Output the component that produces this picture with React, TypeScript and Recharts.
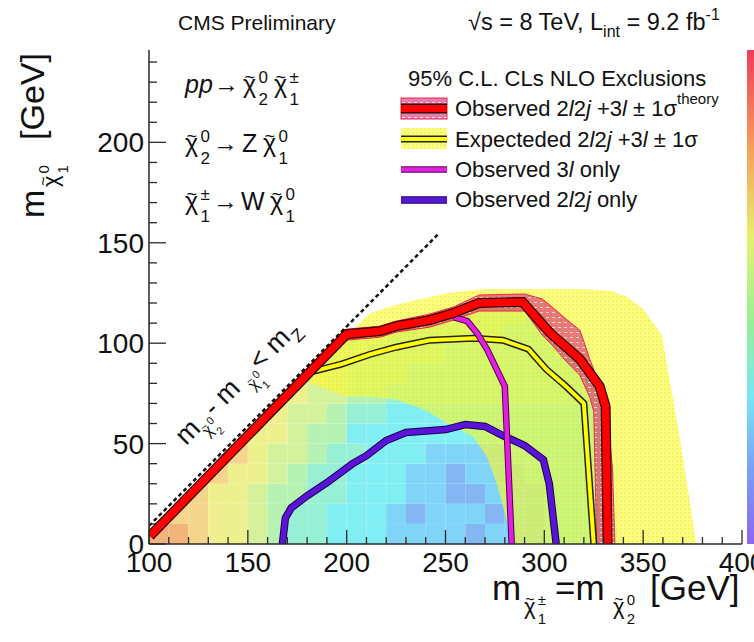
import React from "react";
import { ComposedChart, XAxis, YAxis, Line, Area, ReferenceArea } from "recharts";

const FONT = '"Liberation Sans", Arial, Helvetica, sans-serif';
const AX = "#2a2a2a";

// axis ranges / ticks
const xRange = [100, 400];
const yRange = [0, 246];
const xMajor = [100, 150, 200, 250, 300, 350, 400];
const yMajor = [0, 50, 100, 150, 200];
const xTicks = Array.from({ length: 31 }, (_, i) => 100 + i * 10);
const yTicks = Array.from({ length: 25 }, (_, i) => i * 10);

// colz map: 10 GeV cells, colour level per cell (rows from m_LSP = 0 upwards)
const cellX = [100, 110, 120, 130, 140, 150, 160, 170, 180, 190, 200, 210, 220, 230, 240, 250, 260, 270, 280, 290, 300, 310, 320];
const cellY = [0, 10, 20, 30, 40, 50, 60, 70, 80, 90, 100, 110];
const cellLevel = [
  [9, 9, 8, 7, 7, 6, 5, 4, 4, 3, 3, 3, 2, 2, 2, 2, 1, 2, 2, 2, 3, 3, 3],
  [9, 8, 8, 7, 7, 6, 5, 4, 4, 3, 3, 3, 2, 1, 2, 2, 2, 1, 2, 2, 3, 3, 3],
  [9, 8, 8, 7, 7, 6, 5, 5, 4, 4, 3, 3, 3, 2, 2, 1, 1, 2, 2, 2, 3, 3, 3],
  [9, 9, 8, 8, 7, 7, 6, 5, 4, 4, 3, 3, 3, 2, 2, 1, 2, 2, 2, 3, 3, 3, 3],
  [9, 9, 9, 8, 8, 7, 6, 6, 5, 4, 4, 3, 3, 3, 2, 2, 2, 2, 3, 3, 3, 3, 3],
  [9, 9, 9, 8, 8, 7, 7, 6, 5, 5, 3, 3, 3, 3, 3, 3, 3, 3, 3, 3, 3, 3, 3],
  [9, 9, 9, 9, 8, 8, 7, 6, 6, 5, 4, 4, 3, 3, 3, 3, 3, 3, 3, 3, 3, 3, 3],
  [9, 9, 9, 9, 8, 8, 7, 7, 6, 6, 5, 5, 4, 4, 4, 4, 4, 4, 4, 4, 4, 4, 4],
  [9, 9, 9, 9, 9, 8, 8, 7, 7, 6, 5, 5, 5, 4, 4, 4, 4, 4, 4, 4, 4, 4, 4],
  [9, 9, 9, 9, 9, 8, 8, 7, 7, 6, 6, 5, 5, 5, 5, 4, 4, 4, 4, 4, 4, 4, 4],
  [9, 9, 9, 9, 9, 9, 8, 8, 7, 7, 6, 6, 5, 5, 5, 5, 5, 5, 4, 4, 4, 4, 4],
  [9, 9, 9, 9, 9, 9, 8, 8, 7, 7, 6, 6, 5, 5, 5, 5, 5, 5, 5, 4, 4, 4, 4],
];
const palette = ["#8c9cf0", "#84b6f4", "#80d4f8", "#80eef2", "#98f0d4", "#b6f2b2", "#d4f29c", "#eef08e", "#f5d48c", "#f3b47c"];
const CELL = 10;

// observed 2l2j+3l contour
const obsX = [100.5, 200, 217, 225, 242, 254, 267, 289, 303, 318, 328, 331, 332];
const obsY = [4, 104.5, 106, 108.5, 111.5, 115, 120, 120.5, 105, 92, 78.5, 68.5, 0];
// observed +-1 sigma theory band
const obsBandX = [200, 217, 225, 242, 254, 267, 290, 299, 304, 311, 318, 323, 325, 326.5, 331.5, 334.5, 335.7];
const obsBandLo = [101.5, 103, 105.5, 108, 111.5, 116, 116, 104, 99, 91, 84, 73, 66, 0, 0, 0, 0];
const obsBandHi = [107, 108.5, 111, 114.5, 118, 124, 124.5, 122, 118, 112, 106.5, 92, 87, 82, 70, 37, 0];
// expected contour and +-1 sigma band
const expX = [183, 197, 212, 225, 242, 264, 279, 292, 301, 311, 320, 325];
const expY = [86, 89.5, 94.5, 98, 101.5, 102.5, 101.5, 97, 87, 78.5, 70, 0];
const expBandX = [178, 185, 192, 200, 212, 225, 235, 240, 251, 264, 271, 276, 281, 283.5, 300, 320, 334, 342, 350, 359.5, 368, 377];
const expBandLo = [82, 79, 76, 73.5, 73.5, 72, 68.5, 66.5, 60, 53.5, 43.5, 30, 12, 0, 0, 0, 0, 0, 0, 0, 0, 0];
const expBandHi = [82, 89, 96, 104, 115, 119, 121.5, 122.5, 125, 126.5, 127, 127, 127, 127, 127, 127, 126, 123, 117, 104, 56, 0];
// observed 3l only
const only3lX = [254, 261, 266, 271, 280, 283.5];
const only3lY = [113, 111, 105, 97, 78.5, 0];
// observed 2l2j only
const only2l2jX = [167.5, 169, 172, 180, 190, 203, 210, 220, 230, 250, 260, 270, 279, 290, 299.5, 302.5, 306];
const only2l2jY = [0, 13, 18, 24, 30.5, 40, 44, 51.5, 55.5, 57, 59.5, 58.5, 54, 49, 42, 30, 0];
// m(chi2) - m(chi1) = m_Z
const kinX = [100, 246];
const kinY = [9, 154];

const pts = (xs: number[], ys: number[]) => xs.map((x, i) => ({ x, y: ys[i] }));
const band = (xs: number[], lo: number[], hi: number[]) => xs.map((x, i) => ({ x, r: [lo[i], hi[i]] }));

const obsLine = pts(obsX, obsY);
const expLine = pts(expX, expY);
const line3l = pts(only3lX, only3lY);
const line2l2j = pts(only2l2jX, only2l2jY);
const kinLine = pts(kinX, kinY);
const obsBand = band(obsBandX, obsBandLo, obsBandHi);
const expBand = band(expBandX, expBandLo, expBandHi);
// white cover above the observed contour (the colz map is only shown inside it)
const cover = obsLine.map((p) => ({ x: p.x, r: [p.y, yRange[1]] })).concat([{ x: 400, r: [0, yRange[1]] }]);
const cells = cellY.flatMap((y, j) =>
  cellX.map((x, i) => ({ x1: x, x2: x + CELL, y1: y, y2: y + CELL, level: cellLevel[j][i] }))
);

const BottomTick = ({ x, y, payload }: any) => {
  const major = xMajor.includes(payload.value);
  return (
    <g>
      <line x1={x} x2={x} y1={y} y2={y - (major ? 14 : 7)} stroke={AX} strokeWidth={1.3} />
      {major && (
        <text x={x} y={y + 28} textAnchor="middle" fontSize={28} fontFamily={FONT} fill="#111">
          {payload.value}
        </text>
      )}
    </g>
  );
};
const TopTick = ({ x, y, payload }: any) => {
  const major = xMajor.includes(payload.value);
  return <line x1={x} x2={x} y1={y} y2={y + (major ? 14 : 7)} stroke={AX} strokeWidth={1.3} />;
};
const LeftTick = ({ x, y, payload }: any) => {
  const major = yMajor.includes(payload.value);
  return (
    <g>
      <line x1={x} x2={x + (major ? 17 : 8)} y1={y} y2={y} stroke={AX} strokeWidth={1.3} />
      {major && (
        <text x={x - 5} y={y + 10} textAnchor="end" fontSize={28} fontFamily={FONT} fill="#111">
          {payload.value}
        </text>
      )}
    </g>
  );
};
const RightTick = ({ x, y, payload }: any) => {
  const major = yMajor.includes(payload.value);
  return <line x1={x} x2={x - (major ? 17 : 8)} y1={y} y2={y} stroke={AX} strokeWidth={1.3} />;
};

const Chi = ({ x, y, s, sup, sub }: { x: number; y: number; s: number; sup: string; sub: string }) => (
  <g>
    <text x={x} y={y} fontSize={s}>χ</text>
    <text x={x + s * 0.06} y={y - s * 0.42} fontSize={s * 0.72}>~</text>
    <text x={x + s * 0.62} y={y - s * 0.42} fontSize={s * 0.68}>{sup}</text>
    <text x={x + s * 0.62} y={y + s * 0.46} fontSize={s * 0.68}>{sub}</text>
  </g>
);

const Patterns = ({ p }: { p: string }) => (
  <defs>
    <pattern id={p + "obs"} width="6" height="5" patternUnits="userSpaceOnUse">
      <rect width="6" height="5" fill="#d81e74" fillOpacity="0.58" />
      <line x1="0" y1="2.5" x2="3" y2="2.5" stroke="#fff" strokeOpacity="0.7" strokeWidth="1" />
    </pattern>
    <pattern id={p + "exp"} width="4" height="4" patternUnits="userSpaceOnUse">
      <rect width="4" height="4" fill="#fafa30" fillOpacity="0.62" />
      <rect width="1.5" height="1.5" fill="#dede30" fillOpacity="0.45" />
    </pattern>
  </defs>
);

const it = { fontStyle: "italic" as const };

const Overlay = () => (
  <svg width={754} height={642} style={{ position: "absolute", left: 0, top: 0, pointerEvents: "none" }} fontFamily={FONT} fill="#111">
    <Patterns p="lg" />
    {/* colour scale strip */}
    <defs>
      <linearGradient id="zscale" x1="0" y1="0" x2="0" y2="1">
        <stop offset="0" stopColor="#f03c5a" />
        <stop offset="0.2" stopColor="#f5a05a" />
        <stop offset="0.38" stopColor="#e6f06e" />
        <stop offset="0.55" stopColor="#96f096" />
        <stop offset="0.7" stopColor="#78e6f5" />
        <stop offset="0.85" stopColor="#78a0f5" />
        <stop offset="1" stopColor="#8c64f0" />
      </linearGradient>
    </defs>
    <rect x={747} y={50} width={10} height={494} fill="url(#zscale)" />

    <text x={178} y={30} fontSize={21}>CMS Preliminary</text>
    <text x={468} y={30} fontSize={23.5}>
      √s = 8 TeV, L<tspan dy={7} fontSize={16}>int</tspan>
      <tspan dy={-7}> = 9.2 fb</tspan>
      <tspan dy={-10} fontSize={16}>-1</tspan>
    </text>

    {/* process */}
    <text x={185} y={93} fontSize={25} {...it}>pp</text>
    <text x={214} y={93} fontSize={25}>→</text>
    <Chi x={243} y={93} s={25} sup="0" sub="2" />
    <Chi x={274} y={93} s={25} sup="±" sub="1" />
    <Chi x={185} y={152} s={25} sup="0" sub="2" />
    <text x={213} y={152} fontSize={25}>→</text>
    <text x={242} y={152} fontSize={25}>Z</text>
    <Chi x={263} y={152} s={25} sup="0" sub="1" />
    <Chi x={185} y={210} s={25} sup="±" sub="1" />
    <text x={213} y={210} fontSize={25}>→</text>
    <text x={241} y={210} fontSize={25}>W</text>
    <Chi x={270} y={210} s={25} sup="0" sub="1" />

    {/* kinematic limit label */}
    <g transform="translate(186 446) rotate(-45.4)">
      <text x={0} y={0} fontSize={27}>m</text>
      <Chi x={22} y={10} s={16} sup="0" sub="2" />
      <text x={40} y={0} fontSize={27}> - m</text>
      <Chi x={87} y={10} s={16} sup="0" sub="1" />
      <text x={105} y={0} fontSize={27}> &lt; m</text>
      <text x={152} y={8} fontSize={18}>Z</text>
    </g>

    {/* legend */}
    <text x={408} y={86} fontSize={22}>95% C.L. CLs NLO Exclusions</text>
    <rect x={401} y={98} width={46} height={21} fill="url(#lgobs)" stroke="#e8284a" strokeWidth={1} />
    <line x1={401} x2={447} y1={108.5} y2={108.5} stroke="#3a0000" strokeWidth={10} />
    <line x1={401} x2={447} y1={108.5} y2={108.5} stroke="#ff0000" strokeWidth={7} />
    <text x={455} y={116} fontSize={22}>
      Observed 2<tspan {...it}>l</tspan>2<tspan {...it}>j</tspan> +3<tspan {...it}>l</tspan>  ± 1σ
      <tspan dy={-12} fontSize={15}>theory</tspan>
    </text>
    <rect x={401} y={128} width={46} height={21} fill="url(#lgexp)" />
    <line x1={401} x2={447} y1={139} y2={139} stroke="#222" strokeWidth={7} />
    <line x1={401} x2={447} y1={139} y2={139} stroke="#ffff00" strokeWidth={4} />
    <text x={455} y={147} fontSize={22}>
      Expecteded 2<tspan {...it}>l</tspan>2<tspan {...it}>j</tspan> +3<tspan {...it}>l</tspan>  ± 1σ
    </text>
    <line x1={401} x2={447} y1={169.5} y2={169.5} stroke="#500050" strokeWidth={6.5} />
    <line x1={401} x2={447} y1={169.5} y2={169.5} stroke="#e020e0" strokeWidth={4.5} />
    <text x={455} y={177} fontSize={22}>
      Observed 3<tspan {...it}>l</tspan> only
    </text>
    <line x1={401} x2={447} y1={200} y2={200} stroke="#1a0050" strokeWidth={7.5} />
    <line x1={401} x2={447} y1={200} y2={200} stroke="#5a14d8" strokeWidth={5.5} />
    <text x={455} y={207} fontSize={22}>
      Observed 2<tspan {...it}>l</tspan>2<tspan {...it}>j</tspan>  only
    </text>

    {/* axis titles */}
    <g transform="translate(44 218) rotate(-90)">
      <text x={0} y={0} fontSize={34}>m</text>
      <Chi x={31} y={14} s={22} sup="0" sub="1" />
      <text x={78} y={0} fontSize={34}>[GeV]</text>
    </g>
    <text x={492} y={600} fontSize={35}>m</text>
    <Chi x={524} y={614} s={22} sup="±" sub="1" />
    <text x={555} y={600} fontSize={35}>=m</text>
    <Chi x={613} y={614} s={22} sup="0" sub="2" />
    <text x={650} y={600} fontSize={35}>[GeV]</text>
  </svg>
);

export default function App() {
  return (
    <div style={{ position: "absolute", left: 0, top: 0, width: 754, height: 642, background: "#fff" }}>
      <ComposedChart width={754} height={642} margin={{ top: 50, right: 12, bottom: 0, left: 0 }}>
        <Patterns p="ch" />
        <XAxis dataKey="x" type="number" domain={xRange} ticks={xTicks} interval={0} allowDataOverflow height={98}
          tickSize={0} tickMargin={0} tick={<BottomTick />} axisLine={{ stroke: AX, strokeWidth: 1.5 }} />
        <XAxis xAxisId="top" orientation="top" type="number" domain={xRange} ticks={xTicks} interval={0} allowDataOverflow height={0}
          tickSize={0} tickMargin={0} tick={<TopTick />} axisLine={{ stroke: AX, strokeWidth: 1.5 }} />
        <YAxis type="number" domain={yRange} ticks={yTicks} interval={0} allowDataOverflow width={149}
          tickSize={0} tickMargin={0} tick={<LeftTick />} axisLine={{ stroke: AX, strokeWidth: 1.5 }} />
        <YAxis yAxisId="right" orientation="right" type="number" domain={yRange} ticks={yTicks} interval={0} allowDataOverflow width={0}
          tickSize={0} tickMargin={0} tick={<RightTick />} axisLine={{ stroke: AX, strokeWidth: 1.5 }} />

        {cells.map((c, k) => (
          <ReferenceArea key={k} x1={c.x1} x2={c.x2} y1={c.y1} y2={c.y2} fill={palette[c.level]} fillOpacity={1}
            stroke="none" ifOverflow="hidden" zIndex={50} />
        ))}
        <Area data={cover} dataKey="r" type="linear" fill="#fff" fillOpacity={1} stroke="none" isAnimationActive={false} zIndex={60} />
        <Area data={expBand} dataKey="r" type="linear" fill="url(#chexp)" fillOpacity={1} stroke="none" isAnimationActive={false} zIndex={70} />
        <Area data={obsBand} dataKey="r" type="linear" fill="url(#chobs)" fillOpacity={1} stroke="#e8284a" strokeWidth={1} isAnimationActive={false} zIndex={80} />

        <Line data={kinLine} dataKey="y" type="linear" stroke="#111" strokeWidth={2.5} strokeDasharray="4 3" dot={false} isAnimationActive={false} zIndex={400} />
        <Line data={expLine} dataKey="y" type="linear" stroke="#222" strokeWidth={7} dot={false} isAnimationActive={false} zIndex={410} />
        <Line data={expLine} dataKey="y" type="linear" stroke="#ffff00" strokeWidth={4} dot={false} isAnimationActive={false} zIndex={411} />
        <Line data={line2l2j} dataKey="y" type="linear" stroke="#1a0050" strokeWidth={7.5} dot={false} isAnimationActive={false} zIndex={420} />
        <Line data={line2l2j} dataKey="y" type="linear" stroke="#5a14d8" strokeWidth={5.5} dot={false} isAnimationActive={false} zIndex={421} />
        <Line data={line3l} dataKey="y" type="linear" stroke="#500050" strokeWidth={6.5} dot={false} isAnimationActive={false} zIndex={430} />
        <Line data={line3l} dataKey="y" type="linear" stroke="#e020e0" strokeWidth={4.5} dot={false} isAnimationActive={false} zIndex={431} />
        <Line data={obsLine} dataKey="y" type="linear" stroke="#3a0000" strokeWidth={10} dot={false} isAnimationActive={false} zIndex={440} />
        <Line data={obsLine} dataKey="y" type="linear" stroke="#ff0000" strokeWidth={7.5} dot={false} isAnimationActive={false} zIndex={441} />
      </ComposedChart>
      <Overlay />
    </div>
  );
}
